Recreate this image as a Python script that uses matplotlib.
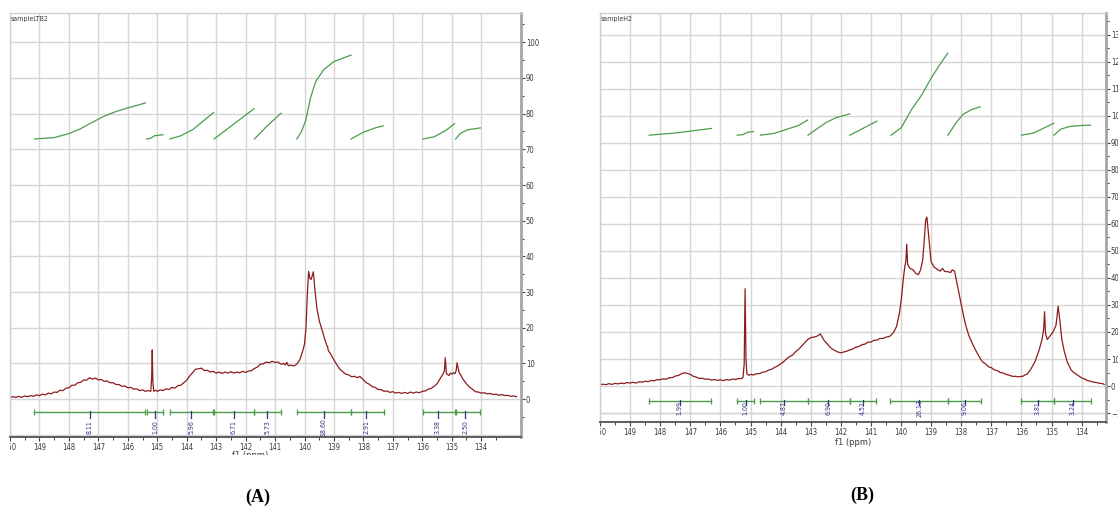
#!/usr/bin/env python3
"""13C NMR spectra of sampleLTB2 (A) and sampleH2 (B) with integrals."""

import matplotlib.pyplot as plt
from matplotlib.ticker import FixedLocator
from matplotlib.transforms import Bbox, TransformedBbox

W, H = 1118, 518
FONT = ["Liberation Sans Narrow", "DejaVu Sans"]

# ---------------- panel A: sampleLTB2 ----------------
# (ppm, intensity)
spec_a = [
    (150.0, 0.4), (149.9, 0.7), (149.8, 0.5), (149.7, 0.8), (149.6, 0.5),
    (149.5, 0.9), (149.4, 0.7), (149.3, 1.0), (149.2, 0.8), (149.1, 1.2),
    (149.0, 1.0), (148.9, 1.4), (148.8, 1.2), (148.7, 1.7), (148.6, 1.5),
    (148.5, 2.0), (148.4, 1.9), (148.3, 2.5), (148.2, 2.4), (148.1, 3.1),
    (148.0, 3.2), (147.9, 3.9), (147.8, 3.9), (147.7, 4.6), (147.6, 4.7),
    (147.5, 5.4), (147.4, 5.3), (147.3, 6.0), (147.2, 5.6), (147.1, 5.9),
    (147.0, 5.4), (146.9, 5.5), (146.8, 5.0), (146.7, 5.1), (146.6, 4.6),
    (146.5, 4.6), (146.4, 4.1), (146.3, 4.1), (146.2, 3.6), (146.1, 3.7),
    (146.0, 3.2), (145.9, 3.3), (145.8, 2.8), (145.7, 2.9), (145.6, 2.4),
    (145.5, 2.6), (145.4, 2.2), (145.3, 2.4), (145.22, 2.2), (145.19, 6.0),
    (145.17, 13.8), (145.15, 5.0), (145.12, 2.2), (145.05, 2.5), (145.0, 2.2),
    (144.9, 2.6), (144.8, 2.4), (144.7, 2.9), (144.6, 2.7), (144.5, 3.3),
    (144.4, 3.1), (144.3, 3.8), (144.2, 3.9), (144.1, 4.6), (144.0, 5.3),
    (143.9, 6.5), (143.8, 7.4), (143.7, 8.4), (143.6, 8.5), (143.5, 8.7),
    (143.4, 8.0), (143.3, 8.1), (143.2, 7.6), (143.1, 7.8), (143.0, 7.3),
    (142.9, 7.6), (142.8, 7.2), (142.7, 7.6), (142.6, 7.3), (142.5, 7.7),
    (142.4, 7.3), (142.3, 7.6), (142.2, 7.4), (142.1, 7.8), (142.0, 7.5),
    (141.9, 7.9), (141.8, 8.0), (141.7, 8.6), (141.6, 9.0), (141.5, 9.8),
    (141.4, 9.9), (141.3, 10.4), (141.2, 10.2), (141.1, 10.6), (141.0, 10.3),
    (140.9, 10.4), (140.8, 9.8), (140.7, 10.0), (140.65, 9.6), (140.6, 10.3),
    (140.55, 9.4), (140.45, 9.5), (140.35, 9.3), (140.25, 9.9), (140.15, 11.2),
    (140.1, 12.5), (140.05, 13.8), (140.0, 15.5), (139.95, 20.0), (139.9, 30.0),
    (139.86, 35.8), (139.82, 34.0), (139.78, 33.5), (139.74, 34.5), (139.7, 35.7),
    (139.65, 31.0), (139.58, 25.5), (139.5, 22.0), (139.4, 19.2), (139.3, 16.5),
    (139.25, 15.2), (139.22, 14.8), (139.19, 13.6), (139.1, 12.5), (139.0, 11.0),
    (138.9, 9.6), (138.8, 8.4), (138.7, 7.7), (138.6, 7.0), (138.5, 6.8),
    (138.4, 6.3), (138.3, 6.4), (138.2, 6.0), (138.12, 6.4), (138.05, 5.8),
    (138.0, 5.4), (137.9, 4.6), (137.8, 4.2), (137.7, 3.5), (137.6, 3.3),
    (137.5, 2.7), (137.4, 2.7), (137.3, 2.2), (137.2, 2.3), (137.1, 1.9),
    (137.0, 2.1), (136.9, 1.7), (136.8, 1.9), (136.7, 1.6), (136.6, 1.9),
    (136.5, 1.6), (136.4, 2.0), (136.3, 1.7), (136.2, 2.0), (136.1, 1.8),
    (136.0, 2.2), (135.9, 2.3), (135.8, 2.8), (135.7, 3.0), (135.6, 3.6),
    (135.5, 4.3), (135.45, 5.0), (135.35, 6.3), (135.3, 7.0), (135.25, 8.0),
    (135.22, 11.6), (135.18, 7.2), (135.1, 6.6), (135.05, 7.3), (135.0, 7.0),
    (134.95, 7.4), (134.9, 7.1), (134.85, 8.0), (134.82, 10.2), (134.75, 7.4),
    (134.7, 6.9), (134.65, 6.0), (134.6, 5.4), (134.5, 4.3), (134.4, 3.4),
    (134.3, 2.8), (134.2, 2.1), (134.1, 2.0), (134.0, 1.7), (133.9, 1.8),
    (133.8, 1.5), (133.7, 1.6), (133.6, 1.3), (133.5, 1.4), (133.4, 1.1),
    (133.3, 1.3), (133.2, 1.0), (133.1, 1.1), (133.0, 0.8), (132.9, 0.9),
    (132.8, 0.7),
]

int_a = [
    ([149.17, 148.5, 148.0, 147.6, 147.2, 146.8, 146.4, 146.0, 145.4],
     [72.9, 73.3, 74.4, 75.8, 77.6, 79.3, 80.6, 81.6, 83.0]),
    ([145.36, 145.22, 145.1, 144.8], [72.9, 73.1, 73.8, 74.1]),
    ([144.57, 144.2, 143.8, 143.5, 143.09], [72.9, 73.8, 75.5, 77.5, 80.3]),
    ([143.07, 142.4, 141.71], [72.9, 77.1, 81.4]),
    ([141.7, 141.3, 140.8], [72.9, 76.3, 80.1]),
    ([140.26, 140.1, 139.95, 139.8, 139.62, 139.35, 139.0, 138.42],
     [72.9, 75.0, 78.3, 84.3, 89.0, 92.3, 94.6, 96.4]),
    ([138.42, 138.0, 137.6, 137.33], [72.9, 74.8, 76.0, 76.6]),
    ([135.98, 135.6, 135.2, 134.9], [72.9, 73.5, 75.3, 77.2]),
    ([134.87, 134.7, 134.45, 134.03], [72.9, 74.5, 75.5, 76.0]),
]
bar_a_start = [149.17, 145.36, 144.57, 143.07, 141.7, 140.26, 138.42, 135.98, 134.87]
bar_a_end = [145.4, 144.8, 143.09, 141.71, 140.8, 138.42, 137.3, 134.9, 134.03]
lbl_a_ppm = [147.3, 145.08, 143.85, 142.41, 141.27, 139.35, 137.9, 135.47, 134.54]
lbl_a_text = ["8.11", "1.00", "5.96", "6.71", "5.73", "18.60", "2.91", "3.38", "2.50"]

# ---------------- panel B: sampleH2 ----------------
spec_b = [
    (150.0, 0.4), (149.9, 0.7), (149.8, 0.5), (149.7, 0.9), (149.6, 0.6),
    (149.5, 1.0), (149.4, 0.8), (149.3, 1.1), (149.2, 0.9), (149.1, 1.3),
    (149.0, 1.1), (148.9, 1.4), (148.8, 1.1), (148.7, 1.6), (148.6, 1.4),
    (148.5, 1.8), (148.4, 1.6), (148.3, 2.1), (148.2, 1.9), (148.1, 2.4),
    (148.0, 2.3), (147.9, 2.7), (147.8, 2.5), (147.7, 3.1), (147.6, 3.1),
    (147.5, 3.7), (147.4, 3.9), (147.3, 4.5), (147.2, 4.9), (147.1, 4.7),
    (147.0, 4.3), (146.9, 3.6), (146.8, 3.3), (146.7, 2.8), (146.6, 2.9),
    (146.5, 2.5), (146.4, 2.6), (146.3, 2.2), (146.2, 2.4), (146.1, 2.1),
    (146.0, 2.3), (145.9, 2.0), (145.8, 2.4), (145.7, 2.2), (145.6, 2.6),
    (145.5, 2.4), (145.4, 2.8), (145.3, 2.7), (145.25, 3.2), (145.21, 8.0),
    (145.18, 36.0), (145.15, 10.0), (145.12, 4.5), (145.05, 4.0), (145.0, 4.3),
    (144.9, 4.1), (144.8, 4.6), (144.7, 4.6), (144.6, 5.1), (144.5, 5.3),
    (144.4, 5.9), (144.3, 6.2), (144.2, 6.9), (144.1, 7.4), (144.0, 8.2),
    (143.9, 9.0), (143.8, 10.1), (143.7, 10.9), (143.6, 11.5), (143.5, 12.7),
    (143.4, 13.6), (143.3, 14.8), (143.2, 16.0), (143.1, 17.2), (143.0, 17.9),
    (142.9, 18.1), (142.8, 18.4), (142.75, 18.7), (142.68, 19.3), (142.6, 17.8),
    (142.55, 16.8), (142.45, 15.6), (142.4, 14.9), (142.3, 13.8), (142.2, 13.2),
    (142.1, 12.6), (142.0, 12.3), (141.9, 12.6), (141.8, 12.9), (141.7, 13.4),
    (141.6, 13.7), (141.5, 14.4), (141.4, 14.6), (141.3, 15.3), (141.2, 15.5),
    (141.1, 16.2), (141.0, 16.3), (140.9, 16.9), (140.8, 17.0), (140.7, 17.6),
    (140.6, 17.6), (140.5, 18.1), (140.4, 18.3), (140.35, 18.6), (140.25, 19.8),
    (140.15, 22.0), (140.05, 27.0), (139.98, 33.0), (139.92, 40.0), (139.87, 44.5),
    (139.84, 46.0), (139.81, 52.5), (139.78, 45.0), (139.7, 43.5), (139.6, 43.0),
    (139.5, 41.6), (139.42, 41.2), (139.35, 43.0), (139.28, 46.5), (139.22, 55.0),
    (139.18, 61.5), (139.14, 62.5), (139.1, 58.0), (139.05, 52.0), (139.0, 46.0),
    (138.9, 44.0), (138.8, 43.2), (138.7, 42.5), (138.62, 43.5), (138.55, 42.4),
    (138.45, 42.3), (138.35, 42.0), (138.3, 43.0), (138.22, 42.5), (138.15, 38.5),
    (138.05, 33.0), (137.95, 27.5), (137.85, 22.5), (137.75, 18.8), (137.6, 15.0),
    (137.45, 11.8), (137.3, 9.0), (137.2, 8.3), (137.1, 7.2), (137.0, 6.8),
    (136.9, 6.0), (136.8, 5.7), (136.7, 5.0), (136.6, 4.8), (136.5, 4.3),
    (136.4, 4.0), (136.3, 3.6), (136.2, 3.6), (136.1, 3.4), (136.0, 3.6),
    (135.95, 3.6), (135.9, 4.0), (135.8, 4.5), (135.75, 5.3), (135.7, 6.0),
    (135.55, 9.0), (135.42, 13.0), (135.32, 17.0), (135.26, 21.0), (135.23, 27.5),
    (135.2, 19.5), (135.14, 17.2), (135.05, 18.5), (134.95, 20.0), (134.85, 22.5),
    (134.78, 29.5), (134.72, 24.0), (134.66, 17.5), (134.58, 13.0), (134.48, 9.0),
    (134.35, 6.0), (134.3, 5.4), (134.2, 4.5), (134.1, 3.8), (134.0, 3.0),
    (133.9, 2.6), (133.8, 2.0), (133.7, 1.8), (133.6, 1.4), (133.5, 1.3),
    (133.4, 1.0), (133.3, 0.9), (133.25, 0.6),
]

int_b = [
    ([148.37, 147.5, 146.3], [92.8, 93.6, 95.3]),
    ([145.44, 145.25, 145.1, 144.9], [92.8, 93.0, 93.9, 94.1]),
    ([144.67, 144.2, 143.87, 143.4, 143.1], [92.8, 93.5, 94.7, 96.4, 98.4]),
    ([143.09, 142.5, 142.16, 141.7], [92.8, 97.4, 99.3, 100.7]),
    ([141.7, 141.25, 140.8], [92.8, 95.4, 98.0]),
    ([140.33, 139.99, 139.65, 139.3, 139.02, 138.74, 138.45],
     [92.8, 95.6, 102.3, 107.9, 113.5, 118.4, 123.1]),
    ([138.44, 138.17, 137.94, 137.65, 137.37], [92.8, 97.4, 100.5, 102.3, 103.3]),
    ([136.0, 135.6, 135.3, 134.92], [92.8, 93.6, 95.2, 97.2]),
    ([134.92, 134.7, 134.4, 134.0, 133.7], [92.8, 95.0, 96.0, 96.4, 96.5]),
]
bar_b_start = [148.37, 145.44, 144.67, 143.1, 141.7, 140.37, 138.45, 136.0, 134.92]
bar_b_end = [146.3, 144.9, 143.1, 141.7, 140.82, 138.45, 137.33, 134.92, 133.69]
lbl_b_ppm = [147.35, 145.16, 143.9, 142.42, 141.27, 139.4, 137.88, 135.45, 134.29]
lbl_b_text = ["1.99", "1.00", "4.87", "6.90", "4.52", "26.13", "9.06", "3.81", "3.24"]

RED = "#8b1c1c"
GREEN = "#4c9c4c"
BLUE = "#34348c"
GRID = "#d6d6d6"
TXT = "#3a3a3a"


def add_panel(fig, box, px_per_ppm, name, spec, integrals, bars, bar_y, lbl_y,
              ylim, yticks):
    left, top, right, bottom = box
    ax = fig.add_axes([left / W, 1 - bottom / H, (right - left) / W, (bottom - top) / H])
    ppm = [p for p, _ in spec]
    inten = [v for _, v in spec]

    ax.set_xlim(150.0, 150.0 - (right - left) / px_per_ppm)
    ax.set_ylim(*ylim)

    ax.xaxis.set_major_locator(FixedLocator(list(range(134, 151))))
    ax.xaxis.set_minor_locator(FixedLocator([v + 0.5 for v in range(133, 150)]))
    ax.yaxis.set_major_locator(FixedLocator(yticks))
    ax.yaxis.set_minor_locator(FixedLocator([v + 5 for v in yticks] + [yticks[0] - 5]))
    ax.yaxis.tick_right()

    ax.grid(True, which="major", color=GRID, linewidth=1.0)
    ax.set_axisbelow(True)
    ax.axhline(-10, color=GRID, linewidth=1.0, zorder=0)

    for s in ("left", "top"):
        ax.spines[s].set_color("#cfcfcf")
        ax.spines[s].set_linewidth(1.0)
    ax.spines["right"].set_color("#a6a6a6")
    ax.spines["right"].set_linewidth(2.0)
    ax.spines["bottom"].set_color("#505050")
    ax.spines["bottom"].set_linewidth(1.3)

    ax.tick_params(axis="y", which="major", direction="out", length=3, width=0.8,
                   color="#444444", labelsize=5.5, pad=0.5, labelcolor=TXT)
    ax.tick_params(axis="y", which="minor", direction="out", length=2, width=0.8,
                   color="#444444")
    ax.tick_params(axis="x", which="major", direction="out", length=3, width=0.8,
                   color="#444444", labelsize=5.5, pad=1, labelcolor=TXT)
    ax.tick_params(axis="x", which="minor", direction="out", length=2, width=0.7,
                   color="#444444")
    for lbl in ax.get_xticklabels() + ax.get_yticklabels():
        lbl.set_family(FONT)
        lbl.set_fontstretch("condensed")

    # clip x tick labels to the axes width, like the software does
    clip = TransformedBbox(Bbox([[left / W, 0], [1.0, 1.0]]), fig.transFigure)
    for tick in ax.xaxis.get_major_ticks():
        tick.label1.set_clip_box(clip)
        tick.label1.set_clip_on(True)

    # integral curves
    for xs, ys in integrals:
        ax.plot(xs, ys, color=GREEN, linewidth=0.9)

    # spectrum
    ax.plot(ppm, inten, color=RED, linewidth=0.9)

    # integration bars and values
    starts, ends, lppm, ltext = bars
    for a, b in zip(starts, ends):
        ax.plot([a, b], [bar_y, bar_y], color=GREEN, linewidth=1.0,
                marker="|", markersize=4, markeredgewidth=0.9)
    for p, t in zip(lppm, ltext):
        ax.plot([p, p], [bar_y + 0.4, bar_y - 1.6], color=BLUE, linewidth=0.9)
        ax.text(p, lbl_y, t, rotation=90, ha="center", va="center", fontsize=5,
                color=BLUE, family=FONT, fontstretch="condensed")

    ax.text(0.002, 0.993, name, transform=ax.transAxes, ha="left", va="top",
            fontsize=5, color=TXT, family=FONT, fontstretch="condensed")
    return ax


fig = plt.figure(figsize=(W / 100, H / 100), dpi=100)

ax_a = add_panel(
    fig, (10, 13, 521, 437), 29.45, "sampleLTB2",
    spec_a, int_a,
    (bar_a_start, bar_a_end, lbl_a_ppm, lbl_a_text),
    bar_y=-3.7, lbl_y=-7.9, ylim=(-10.6, 108.2),
    yticks=[0, 10, 20, 30, 40, 50, 60, 70, 80, 90, 100],
)
ax_b = add_panel(
    fig, (600, 13, 1106, 422), 30.1, "sampleH2",
    spec_b, int_b,
    (bar_b_start, bar_b_end, lbl_b_ppm, lbl_b_text),
    bar_y=-5.4, lbl_y=-8.0, ylim=(-13.3, 138.0),
    yticks=[-10, 0, 10, 20, 30, 40, 50, 60, 70, 80, 90, 100, 110, 120, 130],
)
ax_b.set_xlabel("f1 (ppm)", fontsize=6, labelpad=1, family=FONT, color=TXT)

# panel A axis title is cut off by the bottom of its screenshot
t = fig.text(250 / W, 1 - 451 / H, "f1 (ppm)", ha="center", va="top", fontsize=6,
             family=FONT, color=TXT)
t.set_clip_box(TransformedBbox(Bbox([[0, 1 - 455 / H], [1, 1]]), fig.transFigure))
t.set_clip_on(True)

fig.text(258 / W, 1 - 497 / H, "(A)", ha="center", va="center", fontsize=13,
         fontweight="bold", family="Liberation Serif")
fig.text(862 / W, 1 - 495 / H, "(B)", ha="center", va="center", fontsize=13,
         fontweight="bold", family="Liberation Serif")

fig.savefig("out.png", dpi=100, facecolor="white")
